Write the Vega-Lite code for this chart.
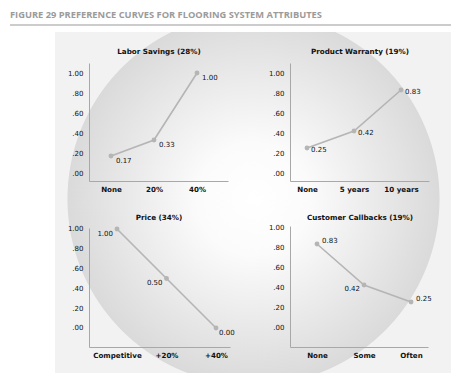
{
  "$schema": "https://vega.github.io/schema/vega-lite/v6.json",
  "padding": {"left": 10, "top": 10, "right": 5, "bottom": 5},
  "background": "white",
  "title": {"text": "FIGURE 29  PREFERENCE CURVES FOR FLOORING SYSTEM ATTRIBUTES", "anchor": "start", "font": "Open Sans", "fontSize": 9.3, "fontWeight": "bold", "color": "#9b9b9b", "offset": 4},
  "datasets": {
    "curves": [
      {"panel": "Labor", "level": "None", "value": 0.17},
      {"panel": "Labor", "level": "20%", "value": 0.33},
      {"panel": "Labor", "level": "40%", "value": 1.0},
      {"panel": "Warranty", "level": "None", "value": 0.25},
      {"panel": "Warranty", "level": "5 years", "value": 0.42},
      {"panel": "Warranty", "level": "10 years", "value": 0.83},
      {"panel": "Price", "level": "Competitive", "value": 1.0},
      {"panel": "Price", "level": "+20%", "value": 0.5},
      {"panel": "Price", "level": "+40%", "value": 0.0},
      {"panel": "Callbacks", "level": "None", "value": 0.83},
      {"panel": "Callbacks", "level": "Some", "value": 0.42},
      {"panel": "Callbacks", "level": "Often", "value": 0.25}
    ]
  },
  "spacing": 6,
  "vconcat": [
    {"data": {"values": []}, "mark": "point", "width": 441, "height": 2, "view": {"fill": "#cccccc", "stroke": null}},
    {
      "spacing": 0,
      "resolve": {"scale": {"x": "independent", "y": "independent"}},
      "hconcat": [
        {"data": {"values": []}, "mark": "point", "width": 45, "height": 341, "view": {"fill": null, "stroke": null}},
        {
          "spacing": 0,
          "resolve": {"scale": {"x": "independent", "y": "independent"}},
          "vconcat": [
            {
              "data": {"name": "curves"},
              "width": 198, "height": 169,
              "view": {"stroke": null, "fill": {"gradient": "radial", "x1": 1.0025, "y1": 0.9167, "r1": 0, "x2": 1.0025, "y2": 0.9167, "r2": 0.9419, "stops": [{"offset": 0, "color": "#ffffff"}, {"offset": 0.3, "color": "#fbfbfb"}, {"offset": 0.995, "color": "#dadada"}, {"offset": 1, "color": "#f2f2f2"}]}},
              "title": {"text": "Labor Savings (28%)", "offset": -27, "dx": 5, "baseline": "middle"},
              "transform": [{"filter": "datum.panel === 'Labor'"}],
              "encoding": {
                "x": {"field": "level", "type": "ordinal", "sort": null, "scale": {"type": "point", "range": [34, 173], "padding": 0.616, "align": 0.415}, "axis": {"offset": -20, "title": null}},
                "y": {"field": "value", "type": "quantitative", "scale": {"domain": [-0.08, 1.1], "range": [149, 31], "nice": false, "zero": false}, "axis": {"offset": -34, "title": null, "values": [0, 0.2, 0.4, 0.6, 0.8, 1], "labelExpr": "datum.value >= 1 ? '1.00' : replace(format(datum.value, '.2f'), '0.', '.')"}}
              },
              "layer": [
                {"mark": {"type": "line", "color": "#b5b5b5", "strokeWidth": 1.6}},
                {"mark": {"type": "point", "filled": true, "color": "#b5b5b5", "size": 24, "opacity": 1}},
                {"mark": {"type": "text", "align": "left", "baseline": "middle", "dx": 5, "dy": 5}, "encoding": {"text": {"field": "value", "format": ".2f"}}}
              ]
            },
            {
              "data": {"name": "curves"},
              "width": 198, "height": 172,
              "view": {"stroke": null, "fill": {"gradient": "radial", "x1": 1.0025, "y1": 0.0556, "r1": 0, "x2": 1.0025, "y2": 0.0556, "r2": 0.9419, "stops": [{"offset": 0, "color": "#ffffff"}, {"offset": 0.3, "color": "#fbfbfb"}, {"offset": 0.995, "color": "#dadada"}, {"offset": 1, "color": "#f2f2f2"}]}},
              "title": {"text": "Price (34%)", "offset": -24, "dx": 5, "baseline": "middle"},
              "transform": [{"filter": "datum.panel === 'Price'"}],
              "encoding": {
                "x": {"field": "level", "type": "ordinal", "sort": null, "scale": {"type": "point", "range": [34, 175], "padding": 0.424, "align": 0.667}, "axis": {"offset": -26, "title": null}},
                "y": {"field": "value", "type": "quantitative", "scale": {"domain": [-0.192, 1.01], "range": [146, 27], "nice": false, "zero": false}, "axis": {"offset": -34, "title": null, "values": [0, 0.2, 0.4, 0.6, 0.8, 1], "labelExpr": "datum.value >= 1 ? '1.00' : replace(format(datum.value, '.2f'), '0.', '.')"}}
              },
              "layer": [
                {"mark": {"type": "line", "color": "#b5b5b5", "strokeWidth": 1.6}},
                {"mark": {"type": "point", "filled": true, "color": "#b5b5b5", "size": 24, "opacity": 1}},
                {"transform": [{"filter": "datum.level !== '+40%'"}], "mark": {"type": "text", "align": "right", "baseline": "middle", "dx": -4, "dy": 5}, "encoding": {"text": {"field": "value", "format": ".2f"}}},
                {"transform": [{"filter": "datum.level === '+40%'"}], "mark": {"type": "text", "align": "left", "baseline": "middle", "dx": 3, "dy": 5}, "encoding": {"text": {"field": "value", "format": ".2f"}}}
              ]
            }
          ]
        },
        {
          "spacing": 0,
          "resolve": {"scale": {"x": "independent", "y": "independent"}},
          "vconcat": [
            {
              "data": {"name": "curves"},
              "width": 198, "height": 169,
              "view": {"stroke": null, "fill": {"gradient": "radial", "x1": 0.0025, "y1": 0.9167, "r1": 0, "x2": 0.0025, "y2": 0.9167, "r2": 0.9419, "stops": [{"offset": 0, "color": "#ffffff"}, {"offset": 0.3, "color": "#fbfbfb"}, {"offset": 0.995, "color": "#dadada"}, {"offset": 1, "color": "#f2f2f2"}]}},
              "title": {"text": "Product Warranty (19%)", "offset": -27, "dx": 8, "baseline": "middle"},
              "transform": [{"filter": "datum.panel === 'Warranty'"}],
              "encoding": {
                "x": {"field": "level", "type": "ordinal", "sort": null, "scale": {"type": "point", "range": [37, 176], "padding": 0.479, "align": 0.378}, "axis": {"offset": -20, "title": null}},
                "y": {"field": "value", "type": "quantitative", "scale": {"domain": [-0.08, 1.1], "range": [149, 31], "nice": false, "zero": false}, "axis": {"offset": -37, "title": null, "values": [0, 0.2, 0.4, 0.6, 0.8, 1], "labelExpr": "datum.value >= 1 ? '1.00' : replace(format(datum.value, '.2f'), '0.', '.')"}}
              },
              "layer": [
                {"mark": {"type": "line", "color": "#b5b5b5", "strokeWidth": 1.6}},
                {"mark": {"type": "point", "filled": true, "color": "#b5b5b5", "size": 24, "opacity": 1}},
                {"mark": {"type": "text", "align": "left", "baseline": "middle", "dx": 4, "dy": 2}, "encoding": {"text": {"field": "value", "format": ".2f"}}}
              ]
            },
            {
              "data": {"name": "curves"},
              "width": 198, "height": 172,
              "view": {"stroke": null, "fill": {"gradient": "radial", "x1": 0.0025, "y1": 0.0556, "r1": 0, "x2": 0.0025, "y2": 0.0556, "r2": 0.9419, "stops": [{"offset": 0, "color": "#ffffff"}, {"offset": 0.3, "color": "#fbfbfb"}, {"offset": 0.995, "color": "#dadada"}, {"offset": 1, "color": "#f2f2f2"}]}},
              "title": {"text": "Customer Callbacks (19%)", "offset": -24, "dx": 8, "baseline": "middle"},
              "transform": [{"filter": "datum.panel === 'Callbacks'"}],
              "encoding": {
                "x": {"field": "level", "type": "ordinal", "sort": null, "scale": {"type": "point", "range": [37, 175], "padding": 0.468, "align": 0.614}, "axis": {"offset": -26, "title": null}},
                "y": {"field": "value", "type": "quantitative", "scale": {"domain": [-0.2, 1.01], "range": [146, 25], "nice": false, "zero": false}, "axis": {"offset": -37, "title": null, "values": [0, 0.2, 0.4, 0.6, 0.8, 1], "labelExpr": "datum.value >= 1 ? '1.00' : replace(format(datum.value, '.2f'), '0.', '.')"}}
              },
              "layer": [
                {"mark": {"type": "line", "color": "#b5b5b5", "strokeWidth": 1.6}},
                {"mark": {"type": "point", "filled": true, "color": "#b5b5b5", "size": 24, "opacity": 1}},
                {"transform": [{"filter": "datum.level !== 'Some'"}], "mark": {"type": "text", "align": "left", "baseline": "middle", "dx": 5, "dy": -3}, "encoding": {"text": {"field": "value", "format": ".2f"}}},
                {"transform": [{"filter": "datum.level === 'Some'"}], "mark": {"type": "text", "align": "right", "baseline": "middle", "dx": -4, "dy": 4}, "encoding": {"text": {"field": "value", "format": ".2f"}}}
              ]
            }
          ]
        }
      ]
    }
  ],
  "config": {
    "view": {"stroke": null},
    "title": {"font": "DejaVu Sans", "fontSize": 7.2, "fontWeight": "bold", "color": "#111111", "anchor": "middle", "frame": "group"},
    "axis": {"domainColor": "#a8a8a8", "domainWidth": 1, "ticks": false, "tickSize": 0, "grid": false, "labelFont": "DejaVu Sans", "labelFontSize": 7, "labelColor": "#111111", "labelOverlap": false},
    "axisX": {"labelFontWeight": "bold", "labelFontSize": 7.1, "labelPadding": 4, "labelAngle": 0},
    "axisY": {"labelPadding": 6},
    "text": {"font": "DejaVu Sans", "fontSize": 7, "color": "#111111"}
  }
}
